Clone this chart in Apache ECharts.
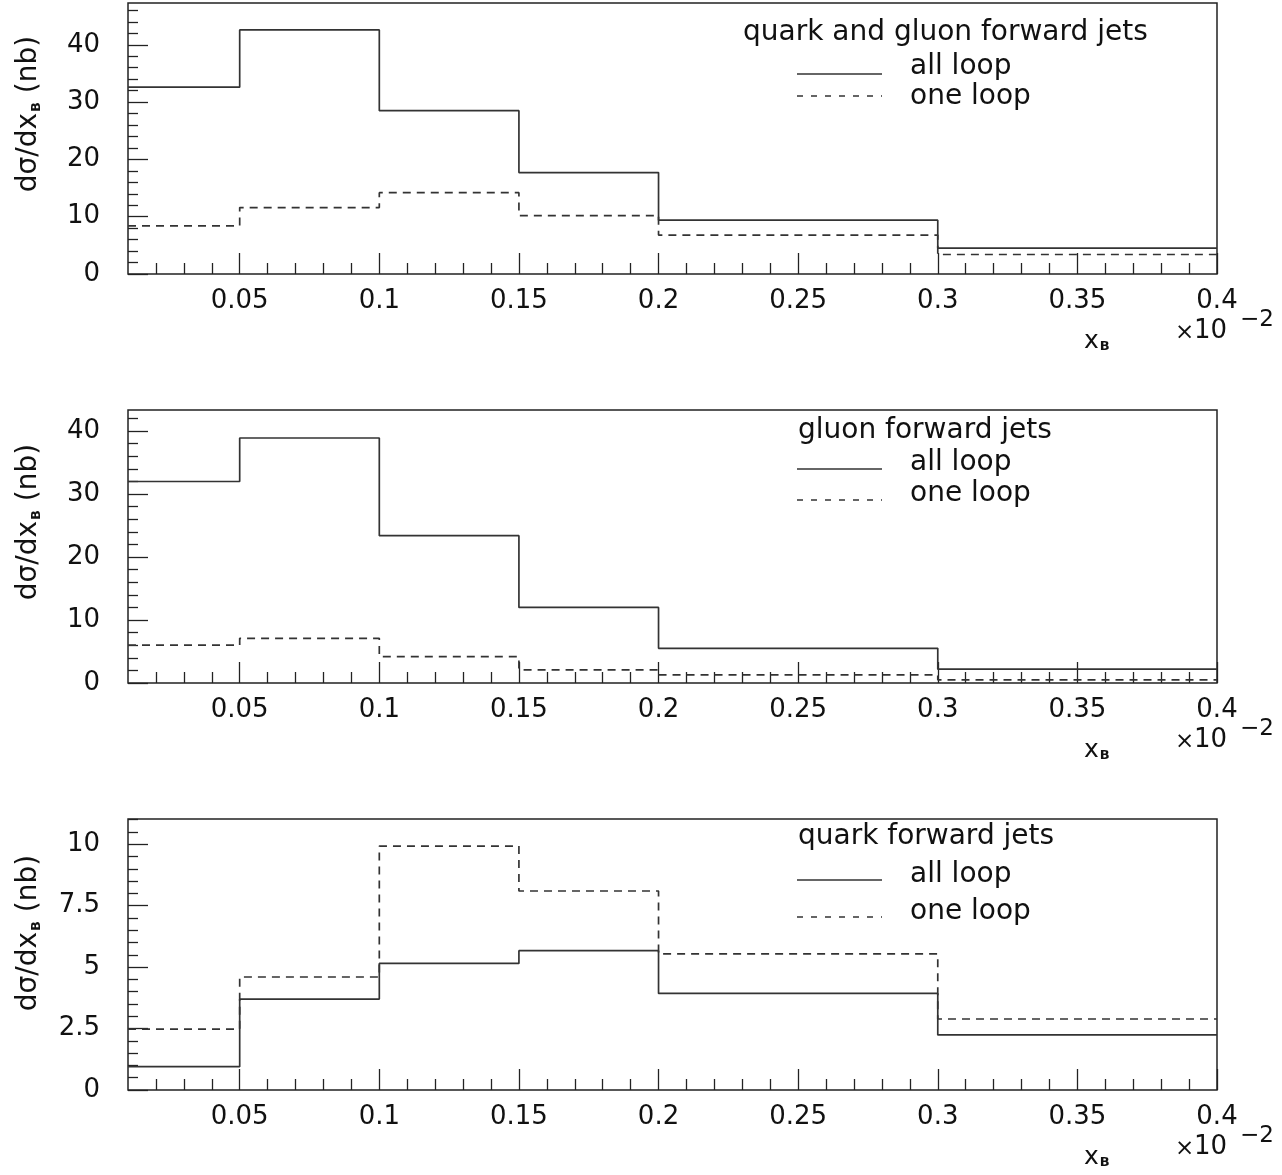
<!DOCTYPE html>
<html>
<head>
<meta charset="utf-8">
<script src="https://cdn.jsdelivr.net/npm/echarts@6/dist/echarts.min.js"></script>
<style>
html,body{margin:0;padding:0;background:#fff;}
#chart{width:1282px;height:1175px;}
</style>
</head>
<body>
<div id="chart"></div>
<script>
// ---- data ----
const binEdges = [0.01, 0.05, 0.1, 0.15, 0.2, 0.3, 0.4];
const allLoopQG  = [32.6, 42.6, 28.5, 17.7, 9.4, 4.5];
const oneLoopQG  = [8.4, 11.6, 14.2, 10.2, 6.8, 3.4];
const allLoopG   = [32.0, 38.9, 23.4, 12.0, 5.5, 2.2];
const oneLoopG   = [6.0, 7.1, 4.2, 2.1, 1.3, 0.5];
const allLoopQ   = [0.95, 3.7, 5.15, 5.67, 3.93, 2.24];
const oneLoopQ   = [2.48, 4.6, 9.93, 8.1, 5.54, 2.89];
const panelTitles = ['quark and gluon forward jets', 'gluon forward jets', 'quark forward jets'];
const seriesNames = ['all loop', 'one loop'];
const xMin = 0.01, xMax = 0.4;
const xMajorTicks = [0.05, 0.1, 0.15, 0.2, 0.25, 0.3, 0.35, 0.4];
const xMinorStep = 0.01;
const yMaxes = [47.3, 43.35, 11.03];
const yMajorTicksList = [[0, 10, 20, 30, 40], [0, 10, 20, 30, 40], [0, 2.5, 5, 7.5, 10]];
const yMinorSteps = [2, 2, 0.5];
const yTitle = 'dσ/dx{b|B} (nb)';
const xTitle = 'x{b|B}';

// ---- build ----
const panels = [
  {all: allLoopQG, one: oneLoopQG},
  {all: allLoopG, one: oneLoopG},
  {all: allLoopQ, one: oneLoopQ}
];
const gridTops = [3, 410, 819];
const gridHeights = [271, 273, 271];
const gridLeft = 128, gridWidth = 1089;
const FONT = '"DejaVu Sans", "Liberation Sans", sans-serif';
const LINE_COLOR = '#333';
const TXT = '#111';

function r6(v){ return Math.round(v * 1e6) / 1e6; }
function minorList(min, max, step, majors){
  const out = [];
  for (let k = 1; ; k++) {
    const v = r6(min + k * step);
    if (v > max + 1e-9) break;
    if (!majors.some(m => Math.abs(m - v) < 1e-9)) out.push(v);
  }
  return out;
}
function histPoints(vals){
  return binEdges.map((e, i) => [e, vals[Math.min(i, vals.length - 1)]]);
}

const grids = [], xAxes = [], yAxes = [], series = [], graphics = [];
const xMinor = minorList(xMin, xMax, xMinorStep, xMajorTicks);

panels.forEach((p, i) => {
  grids.push({left: gridLeft, width: gridWidth, top: gridTops[i], height: gridHeights[i],
    show: true, borderColor: '#222', borderWidth: 1.5, backgroundColor: 'transparent'});
  const baseX = {
    type: 'value', gridIndex: i, min: xMin, max: xMax, position: 'bottom',
    axisLine: {show: false, onZero: false}, splitLine: {show: false}
  };
  xAxes.push(Object.assign({}, baseX, {
    axisTick: {show: true, inside: true, length: 21, customValues: xMajorTicks, lineStyle: {color: '#222', width: 1.3}},
    axisLabel: {show: true, customValues: xMajorTicks, margin: 14, color: TXT,
      fontFamily: FONT, fontSize: 26, formatter: v => String(r6(v))}
  }));
  xAxes.push(Object.assign({}, baseX, {
    axisTick: {show: true, inside: true, length: 11, customValues: xMinor, lineStyle: {color: '#222', width: 1.3}},
    axisLabel: {show: false}
  }));
  const majors = yMajorTicksList[i];
  const yMinor = minorList(0, yMaxes[i], yMinorSteps[i], majors);
  const baseY = {
    type: 'value', gridIndex: i, min: 0, max: yMaxes[i], position: 'left',
    axisLine: {show: false, onZero: false}, splitLine: {show: false}
  };
  yAxes.push(Object.assign({}, baseY, {
    axisTick: {show: true, inside: true, length: 20, customValues: majors, lineStyle: {color: '#222', width: 1.3}},
    axisLabel: {show: true, customValues: majors, margin: 28, color: TXT,
      fontFamily: FONT, fontSize: 26}
  }));
  yAxes.push(Object.assign({}, baseY, {
    axisTick: {show: true, inside: true, length: 10, customValues: yMinor, lineStyle: {color: '#222', width: 1.3}},
    axisLabel: {show: false}
  }));
  series.push({
    name: seriesNames[0], type: 'line', xAxisIndex: 2 * i, yAxisIndex: 2 * i,
    step: 'end', symbol: 'none', data: histPoints(p.all),
    lineStyle: {color: LINE_COLOR, width: 1.7, type: 'solid'}, animation: false
  });
  series.push({
    name: seriesNames[1], type: 'line', xAxisIndex: 2 * i, yAxisIndex: 2 * i,
    step: 'end', symbol: 'none', data: histPoints(p.one),
    lineStyle: {color: LINE_COLOR, width: 1.7, type: [8, 6]}, animation: false
  });
});

// ---- decorations (legend, axis titles) ----
const axisBase = [274, 683, 1090];
const legendPos = [
  {tx: 743, ty: 33, l1: 74, l2: 96, t1: 67, t2: 97},
  {tx: 798, ty: 431, l1: 469, l2: 500, t1: 463, t2: 494},
  {tx: 798, ty: 837, l1: 880, l2: 917, t1: 875, t2: 912}
];
const yTitleCenters = [114, 522, 933];
function rich(size){
  return {b: {fontSize: size, fontWeight: 'bold', fontFamily: FONT, fill: TXT, verticalAlign: 'bottom', padding: [0, 0, 0, 1]}};
}
function txt(x, y, text, size, extra){
  return Object.assign({type: 'text', x: x, y: y, silent: true,
    style: {text: text, font: size + 'px ' + FONT, fill: TXT, align: 'left', verticalAlign: 'middle',
      textAlign: 'left', textVerticalAlign: 'middle'}}, extra || {});
}

panels.forEach((p, i) => {
  const L = legendPos[i];
  graphics.push(txt(L.tx, L.ty, panelTitles[i], 28));
  graphics.push({type: 'line', silent: true, shape: {x1: 797, y1: L.l1, x2: 882, y2: L.l1},
    style: {stroke: LINE_COLOR, lineWidth: 1.4}});
  graphics.push({type: 'line', silent: true, shape: {x1: 797, y1: L.l2, x2: 882, y2: L.l2},
    style: {stroke: LINE_COLOR, lineWidth: 1.4, lineDash: [6, 8]}});
  graphics.push(txt(910, L.t1, seriesNames[0], 28));
  graphics.push(txt(910, L.t2, seriesNames[1], 28));
  // y title (rotated)
  const yt = txt(29, yTitleCenters[i], yTitle, 28, {rotation: Math.PI / 2});
  yt.style.align = 'center'; yt.style.textAlign = 'center'; yt.style.rich = rich(13);
  graphics.push(yt);
  // x title
  const b = axisBase[i];
  const xt = txt(1084, b + 67, xTitle, 25);
  xt.style.rich = rich(13);
  graphics.push(xt);
  graphics.push(txt(1175, b + 59, '×', 23));
  graphics.push(txt(1194, b + 57, '10', 26));
  graphics.push(txt(1240, b + 46, '−2', 23));
});

const chart = echarts.init(document.getElementById('chart'), null, {renderer: 'canvas'});
chart.setOption({
  animation: false,
  backgroundColor: '#fff',
  textStyle: {fontFamily: FONT},
  grid: grids,
  xAxis: xAxes,
  yAxis: yAxes,
  series: series,
  graphic: graphics
});
</script>
</body>
</html>
